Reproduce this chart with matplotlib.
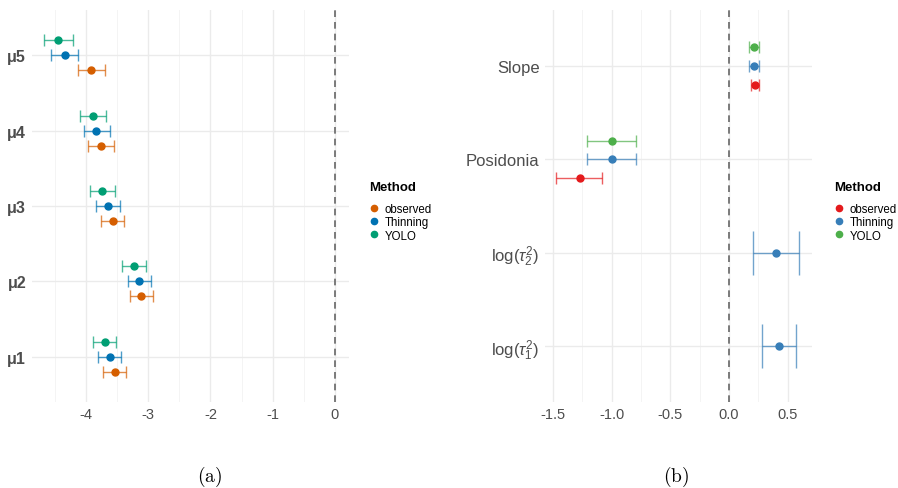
import matplotlib
matplotlib.use('Agg')
import matplotlib.pyplot as plt
import numpy as np
from matplotlib.lines import Line2D

plt.rcParams['font.family'] = ['Liberation Sans', 'DejaVu Sans']
plt.rcParams['axes.unicode_minus'] = False
plt.rcParams['mathtext.fontset'] = 'custom'
plt.rcParams['mathtext.rm'] = 'Liberation Sans'
plt.rcParams['mathtext.it'] = 'Liberation Sans:italic'

methods = ['observed', 'Thinning', 'YOLO']
offsets = {'observed': -0.2, 'Thinning': 0.0, 'YOLO': 0.2}

# panel (a): mu parameters, bottom to top
mu_labels = ['μ1', 'μ2', 'μ3', 'μ4', 'μ5']
mu_est = {
    'observed': [-3.53, -3.11, -3.57, -3.75, -3.91],
    'Thinning': [-3.62, -3.15, -3.64, -3.83, -4.34],
    'YOLO':     [-3.70, -3.23, -3.74, -3.89, -4.44],
}
mu_low = {
    'observed': [-3.72, -3.29, -3.76, -3.96, -4.13],
    'Thinning': [-3.80, -3.33, -3.83, -4.03, -4.56],
    'YOLO':     [-3.89, -3.42, -3.94, -4.10, -4.67],
}
mu_high = {
    'observed': [-3.35, -2.93, -3.38, -3.55, -3.70],
    'Thinning': [-3.43, -2.96, -3.45, -3.62, -4.12],
    'YOLO':     [-3.51, -3.04, -3.54, -3.68, -4.20],
}
colors_a = {'observed': '#D55E00', 'Thinning': '#0072B2', 'YOLO': '#009E73'}

# panel (b): other parameters, bottom to top
par_labels = [r'$\mathrm{log(}\tau_1^2\mathrm{)}$', r'$\mathrm{log(}\tau_2^2\mathrm{)}$',
              'Posidonia', 'Slope']
par_est = {
    'observed': [np.nan, np.nan, -1.27, 0.22],
    'Thinning': [0.425, 0.405, -1.00, 0.21],
    'YOLO':     [np.nan, np.nan, -1.00, 0.21],
}
par_low = {
    'observed': [np.nan, np.nan, -1.47, 0.185],
    'Thinning': [0.278, 0.207, -1.21, 0.17],
    'YOLO':     [np.nan, np.nan, -1.21, 0.17],
}
par_high = {
    'observed': [np.nan, np.nan, -1.08, 0.26],
    'Thinning': [0.573, 0.60, -0.79, 0.255],
    'YOLO':     [np.nan, np.nan, -0.79, 0.255],
}
colors_b = {'observed': '#E41A1C', 'Thinning': '#377EB8', 'YOLO': '#4DAF4A'}

fig = plt.figure(figsize=(8.98, 4.89), dpi=100)
ax1 = fig.add_axes([0.0353, 0.176, 0.353, 0.8015])
ax2 = fig.add_axes([0.607, 0.176, 0.297, 0.8015])


def style(ax, xlim, xmajor, xminor, nrows):
    ax.set_xlim(*xlim)
    ax.set_ylim(0.4, nrows + 0.6)
    ax.set_xticks(xmajor)
    ax.set_xticks(xminor, minor=True)
    ax.set_yticks(np.arange(1, nrows + 1))
    ax.grid(which='major', color='#EBEBEB', lw=1.0)
    ax.grid(which='minor', axis='x', color='#F2F2F2', lw=0.6)
    ax.set_axisbelow(True)
    for s in ax.spines.values():
        s.set_visible(False)
    ax.tick_params(which='both', length=0, colors='#4D4D4D', labelsize=10.5, pad=4)
    ax.axvline(0, color='#666666', lw=1.2, ls=(0, (4, 3)), zorder=1)


def draw(ax, est, low, high, colors, single_rows=()):
    for m in methods:
        for i in range(len(est[m])):
            v = est[m][i]
            if np.isnan(v):
                continue
            y = i + 1
            cap = 4
            if i in single_rows:
                cap = 16
            else:
                y = y + offsets[m]
            ax.errorbar(v, y, xerr=[[v - low[m][i]], [high[m][i] - v]], fmt='none',
                        ecolor=colors[m], alpha=0.7, elinewidth=1.0, capsize=cap,
                        capthick=1.0, zorder=2)
            ax.plot(v, y, 'o', color=colors[m], ms=5, zorder=3)


style(ax1, (-4.87, 0.22), [-4, -3, -2, -1, 0], [-4.5, -3.5, -2.5, -1.5, -0.5], 5)
draw(ax1, mu_est, mu_low, mu_high, colors_a)
ax1.set_yticklabels(mu_labels, fontsize=11.5, fontweight='bold')

style(ax2, (-1.566, 0.706), [-1.5, -1.0, -0.5, 0.0, 0.5],
      [-1.25, -0.75, -0.25, 0.25], 4)
draw(ax2, par_est, par_low, par_high, colors_b, single_rows=(0, 1))
ax2.set_xticklabels(['-1.5', '-1.0', '-0.5', '0.0', '0.5'])
ax2.set_yticklabels(par_labels, fontsize=12)

# legends: title placed separately to get the ggplot-like gap
for colors, x in [(colors_a, 0.405), (colors_b, 0.923)]:
    fig.text(x + 0.006, 1 - 188 / 489, 'Method', fontsize=9.5, fontweight='bold',
             ha='left', va='center')
    handles = [Line2D([], [], marker='o', ls='', color=colors[m], ms=4.5) for m in methods]
    fig.legend(handles, methods, loc='upper left', bbox_to_anchor=(x, 1 - 198 / 489),
               frameon=False, fontsize=8.3, handlelength=0.8,
               handletextpad=0.5, labelspacing=0.12, borderpad=0)

fig.text(0.233, 1 - 477 / 489, r'$\mathrm{(a)}$', ha='center', va='center',
         fontsize=14, math_fontfamily='cm')
fig.text(0.753, 1 - 477 / 489, r'$\mathrm{(b)}$', ha='center', va='center',
         fontsize=14, math_fontfamily='cm')

fig.savefig('out.png', dpi=100)
